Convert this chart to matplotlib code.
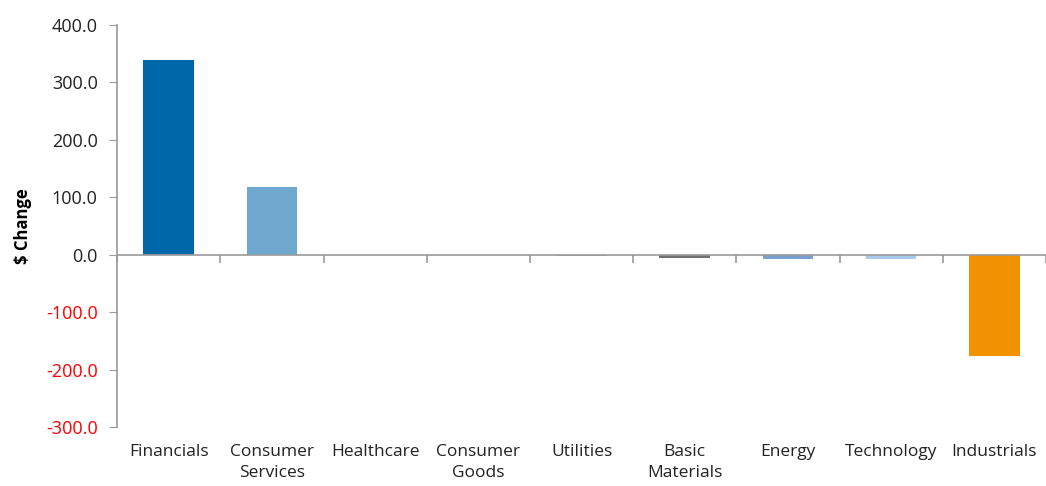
import matplotlib.pyplot as plt
import numpy as np

plt.rcParams["font.family"] = ["Open Sans", "DejaVu Sans"]

categories = ["Financials", "Consumer\nServices", "Healthcare", "Consumer\nGoods",
              "Utilities", "Basic\nMaterials", "Energy", "Technology", "Industrials"]
changes = [338.0, 117.0, 0.3, 0.3, -3.0, -6.0, -8.0, -8.0, -176.0]
colors = ["#0068a8", "#6ea8cf", "#4f81bd", "#9bbb59",
          "#a0a0a0", "#707070", "#7ba0cc", "#a7cbe8", "#f39200"]
yticks = [-300, -200, -100, 0, 100, 200, 300, 400]

fig = plt.figure(figsize=(10.46, 4.86), dpi=100)
ax = fig.add_axes([0.112, 0.121, 0.888, 0.828])

x = np.arange(len(categories))
ax.bar(x, changes, width=0.49, color=colors, zorder=2)
ax.axhline(0, color="#9a9a9a", lw=1.2, zorder=3)

ax.set_xlim(-0.5, len(categories) - 0.5)
ax.set_ylim(-300, 400)
ax.set_yticks(yticks)
ax.set_yticklabels([f"{v:.1f}" for v in yticks], fontsize=13)
for lab, v in zip(ax.get_yticklabels(), yticks):
    lab.set_color("#ff0000" if v < 0 else "#222222")
ax.tick_params(axis="y", direction="out", length=6, color="#9a9a9a", pad=8)

ax.set_xticks(x)
ax.set_xticklabels(categories, fontsize=12.5, color="#222222", va="top", linespacing=1.4)
ax.tick_params(axis="x", length=0, pad=12)

for side in ("top", "right", "bottom"):
    ax.spines[side].set_visible(False)
ax.spines["left"].set_color("#9a9a9a")
ax.spines["left"].set_linewidth(1.2)

# boundary tick marks hanging off the zero line
sec = ax.secondary_xaxis(300 / 700)
sec.set_xticks(np.arange(len(categories) + 1) - 0.5)
sec.set_xticklabels([])
sec.tick_params(direction="out", length=6, color="#9a9a9a", width=1.2)
sec.spines["bottom"].set_visible(False)

ax.set_ylabel("$ Change", fontsize=12, fontweight="bold", labelpad=10)

fig.savefig("out.png", dpi=100)
